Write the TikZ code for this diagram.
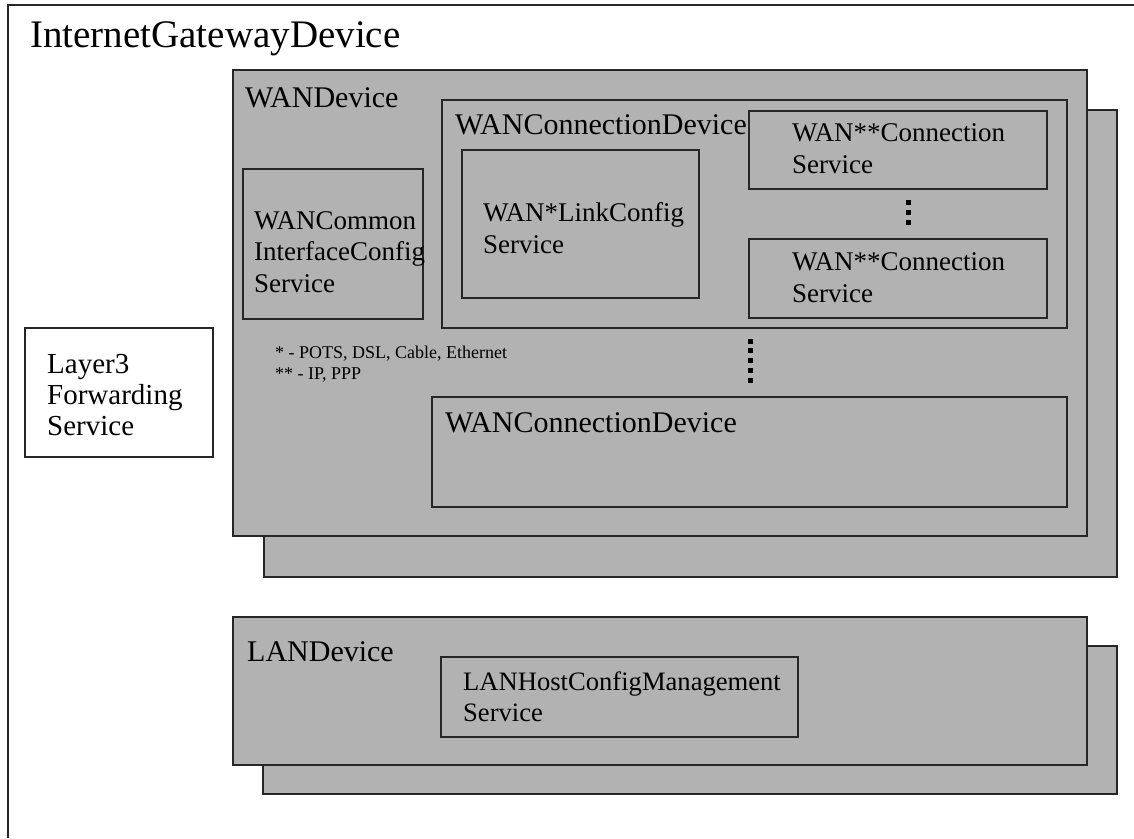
\documentclass[tikz,border=0pt]{standalone}
\usepackage{fontspec}
\setmainfont{Liberation Serif}
\usetikzlibrary{positioning}

\begin{document}
\begin{tikzpicture}[x=1pt, y=-1pt]
            \tikzstyle{box} = [draw=black!85, line width=1.5pt, fill=black!30,
                anchor=north west, inner sep=0pt, outer sep=0pt]
            \tikzstyle{wbox} = [box, fill=white]
            \tikzstyle{lbl} = [anchor=base west, inner sep=0pt, align=left,
                font=\fontsize{27}{31.5}\selectfont]
            \tikzstyle{devlbl} = [lbl, font=\fontsize{30}{33}\selectfont]
            \tikzstyle{note} = [lbl, font=\fontsize{18}{21}\selectfont]
            \tikzstyle{dot} = [fill=black, minimum size=5pt, inner sep=0pt]
            \useasboundingbox (0,0) rectangle (1134,838);

            % outer frame
            \draw [draw=black!85, line width=1.5pt] (8,838) -- (8,5) -- (1134,5);
            \node [lbl, font=\fontsize{39}{42}\selectfont] (igd) at (30,47) {InternetGatewayDevice};

            % multi-line labels sit on the baseline of their last line
            \node [wbox, minimum width=188pt, minimum height=129pt] (l3fwd) at (25,328) {};
            \node [lbl, font=\fontsize{29}{31}\selectfont] (l3lbl) at (47,435) {Layer3\\Forwarding\\Service};

            % WAN side
            \node [box, minimum width=853pt, minimum height=467pt] (wanback) at (264,110) {};
            \node [box, minimum width=854pt, minimum height=466pt] (wan) at (233,70) {};
            \node [devlbl] (wanlbl) at (245,107) {WANDevice};

            \node [box, minimum width=180pt, minimum height=150pt] (wancommon) at (243,169) {};
            \node [lbl] (commonlbl) at (254,292) {WANCommon\\InterfaceConfig\\Service};

            \node [box, minimum width=625pt, minimum height=228pt] (wanconn) at (442,100) {};
            \node [devlbl] (connlbl) at (455,134) {WANConnectionDevice};
            \node [box, minimum width=237pt, minimum height=148pt] (linkcfg) at (462,150) {};
            \node [lbl] (linklbl) at (483,253) {WAN*LinkConfig\\Service};
            \node [box, minimum width=298pt, minimum height=78pt] (connsvc) at (749,111) {};
            \node [lbl] (connsvclbl) at (792,173) {WAN**Connection\\Service};
            \node [box, minimum width=298pt, minimum height=79pt] (connsvcn) at (749,239) {};
            \node [lbl] (connsvcnlbl) at (792,302) {WAN**Connection\\Service};
            \foreach \i in {0,1,2}
                \node [dot] (svcdot\i) at (908,202+10*\i) {};

            \node [note] (notes) at (275,379) {* - POTS, DSL, Cable, Ethernet\\** - IP, PPP};
            \foreach \i in {0,...,4}
                \node [dot] (conndot\i) at (750,341+9.8*\i) {};

            \node [box, minimum width=635pt, minimum height=110pt] (wanconnn) at (432,397) {};
            \node [devlbl] (connnlbl) at (445,432) {WANConnectionDevice};

            % LAN side
            \node [box, minimum width=854pt, minimum height=148pt] (lanback) at (263,646) {};
            \node [box, minimum width=854pt, minimum height=148pt] (lan) at (233,617) {};
            \node [devlbl] (lanlbl) at (247,661) {LANDevice};
            \node [box, minimum width=357pt, minimum height=80pt] (lanhost) at (441,657) {};
            \node [lbl, font=\fontsize{26.6}{31}\selectfont] (hostlbl) at (463,721) {LANHostConfigManagement\\Service};

        \end{tikzpicture}
\end{document}
